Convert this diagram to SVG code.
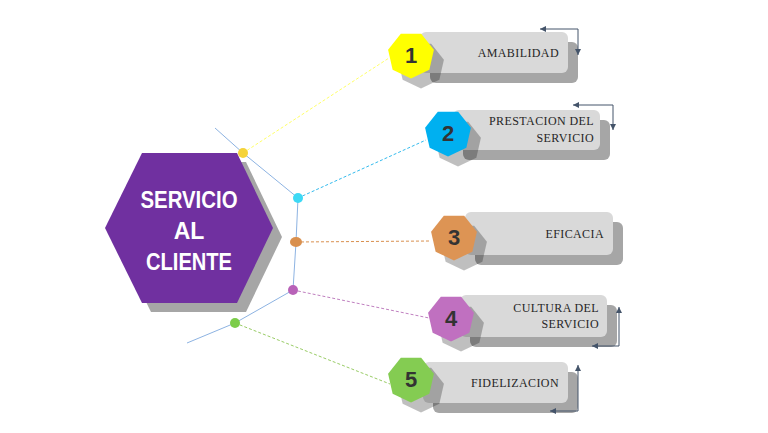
<svg xmlns="http://www.w3.org/2000/svg" xmlns:xlink="http://www.w3.org/1999/xlink" width="768" height="433" viewBox="0 0 768 433">
<style>
.card{fill:#d9d9d9}
.cardsh{fill:#a6a6a6}
.bsh{fill:#000;fill-opacity:0.25}
.num{font-family:"Liberation Sans",Arial,sans-serif;font-weight:bold;font-size:22px;fill:#333;text-anchor:middle}
.lbl{font-family:"Liberation Serif","Times New Roman",serif;font-size:12px;fill:#262626;text-anchor:end;letter-spacing:0.4px}
.title{font-family:"Liberation Sans",Arial,sans-serif;font-weight:bold;font-size:23px;fill:#fff;text-anchor:middle}
.dash{fill:none;stroke-width:1;stroke-dasharray:3 2}
.elbow{fill:none;stroke:#44546a;stroke-width:1;marker-start:url(#ah);marker-end:url(#ah)}
</style>
<defs>
<polygon id="hept" points="0,23.5 -18.37,14.65 -22.91,-5.23 -10.2,-21.17 10.2,-21.17 22.91,-5.23 18.37,14.65"/>
<marker id="ah" markerUnits="userSpaceOnUse" markerWidth="6" markerHeight="6" refX="6" refY="3" orient="auto-start-reverse">
<path d="M0,0 L6,3 L0,6 z" fill="#44546a"/>
</marker>
</defs>
<rect width="768" height="433" fill="#fff"/>

<g id="center">
<polygon points="114,237 151,162 246,162 282,237 246,312 151,312" fill="#a6a6a6"/>
<polygon points="105,228 142,153 237,153 273,228 237,303 142,303" fill="#7030a0"/>
<text class="title" x="189" y="208" textLength="97" lengthAdjust="spacingAndGlyphs">SERVICIO</text>
<text class="title" x="189" y="239">AL</text>
<text class="title" x="189" y="270" textLength="86" lengthAdjust="spacingAndGlyphs">CLIENTE</text>
</g>

<g id="node1">
<rect class="cardsh" x="430" y="42" width="148" height="41" rx="6"/>
<rect class="card" x="420" y="32" width="148" height="41" rx="6"/>
<use href="#hept" x="421" y="65" class="bsh"/>
<use href="#hept" x="411" y="55" fill="#ffff00"/>
<text class="num" x="411" y="63">1</text>
<text class="lbl" x="559" y="57">AMABILIDAD</text>
</g>

<g id="node2">
<rect class="cardsh" x="463" y="120" width="147" height="40" rx="6"/>
<rect class="card" x="453" y="110" width="147" height="40" rx="6"/>
<use href="#hept" x="458" y="143" class="bsh"/>
<use href="#hept" x="448" y="133" fill="#00b0f0"/>
<text class="num" x="448" y="141">2</text>
<text class="lbl" x="594" y="125">PRESTACION DEL</text>
<text class="lbl" x="594" y="142">SERVICIO</text>
</g>

<g id="node3">
<rect class="cardsh" x="475" y="222" width="148" height="43" rx="6"/>
<rect class="card" x="465" y="212" width="148" height="43" rx="6"/>
<use href="#hept" x="464" y="247" class="bsh"/>
<use href="#hept" x="454" y="237" fill="#dd9454"/>
<text class="num" x="454" y="245">3</text>
<text class="lbl" x="604" y="238">EFICACIA</text>
</g>

<g id="node4">
<rect class="cardsh" x="470" y="305" width="147" height="42" rx="6"/>
<rect class="card" x="460" y="295" width="147" height="42" rx="6"/>
<use href="#hept" x="461" y="328" class="bsh"/>
<use href="#hept" x="451" y="318" fill="#c070c0"/>
<text class="num" x="451" y="326">4</text>
<text class="lbl" x="599" y="312">CULTURA DEL</text>
<text class="lbl" x="599" y="328">SERVICIO</text>
</g>

<g id="node5">
<rect class="cardsh" x="433" y="372" width="145" height="41" rx="6"/>
<rect class="card" x="423" y="362" width="145" height="41" rx="6"/>
<use href="#hept" x="421" y="389" class="bsh"/>
<use href="#hept" x="411" y="379" fill="#84cc52"/>
<text class="num" x="411" y="387">5</text>
<text class="lbl" x="559" y="387">FIDELIZACION</text>
</g>

<g id="connectors">
<polyline points="215,128 243,153 298,198 296,242 293,290 235,323 187,343" fill="none" stroke="#8db3e2" stroke-width="1"/>
<line class="dash" x1="243" y1="153" x2="389" y2="58" stroke="#ffff66"/>
<line class="dash" x1="298" y1="198" x2="426" y2="140" stroke="#33bbee"/>
<line class="dash" x1="296" y1="242" x2="431" y2="241" stroke="#d9904f"/>
<line class="dash" x1="293" y1="290" x2="429" y2="318" stroke="#c080c0"/>
<line class="dash" x1="235" y1="323" x2="390" y2="384" stroke="#99cc66"/>
<ellipse cx="243" cy="153" rx="5" ry="5" fill="#f5d33a"/>
<ellipse cx="298" cy="198" rx="5" ry="5" fill="#3dd9f5"/>
<ellipse cx="296" cy="242" rx="6" ry="5" fill="#d9904f"/>
<ellipse cx="293" cy="290" rx="5" ry="5" fill="#b862b8"/>
<ellipse cx="235" cy="323" rx="5" ry="5" fill="#7ccc4a"/>
<path class="elbow" d="M540,29 H578 V55"/>
<path class="elbow" d="M573,105 H613 V130"/>
<path class="elbow" d="M619,307 V346 H592"/>
<path class="elbow" d="M578,365 V411 H550"/>
</g>
</svg>
